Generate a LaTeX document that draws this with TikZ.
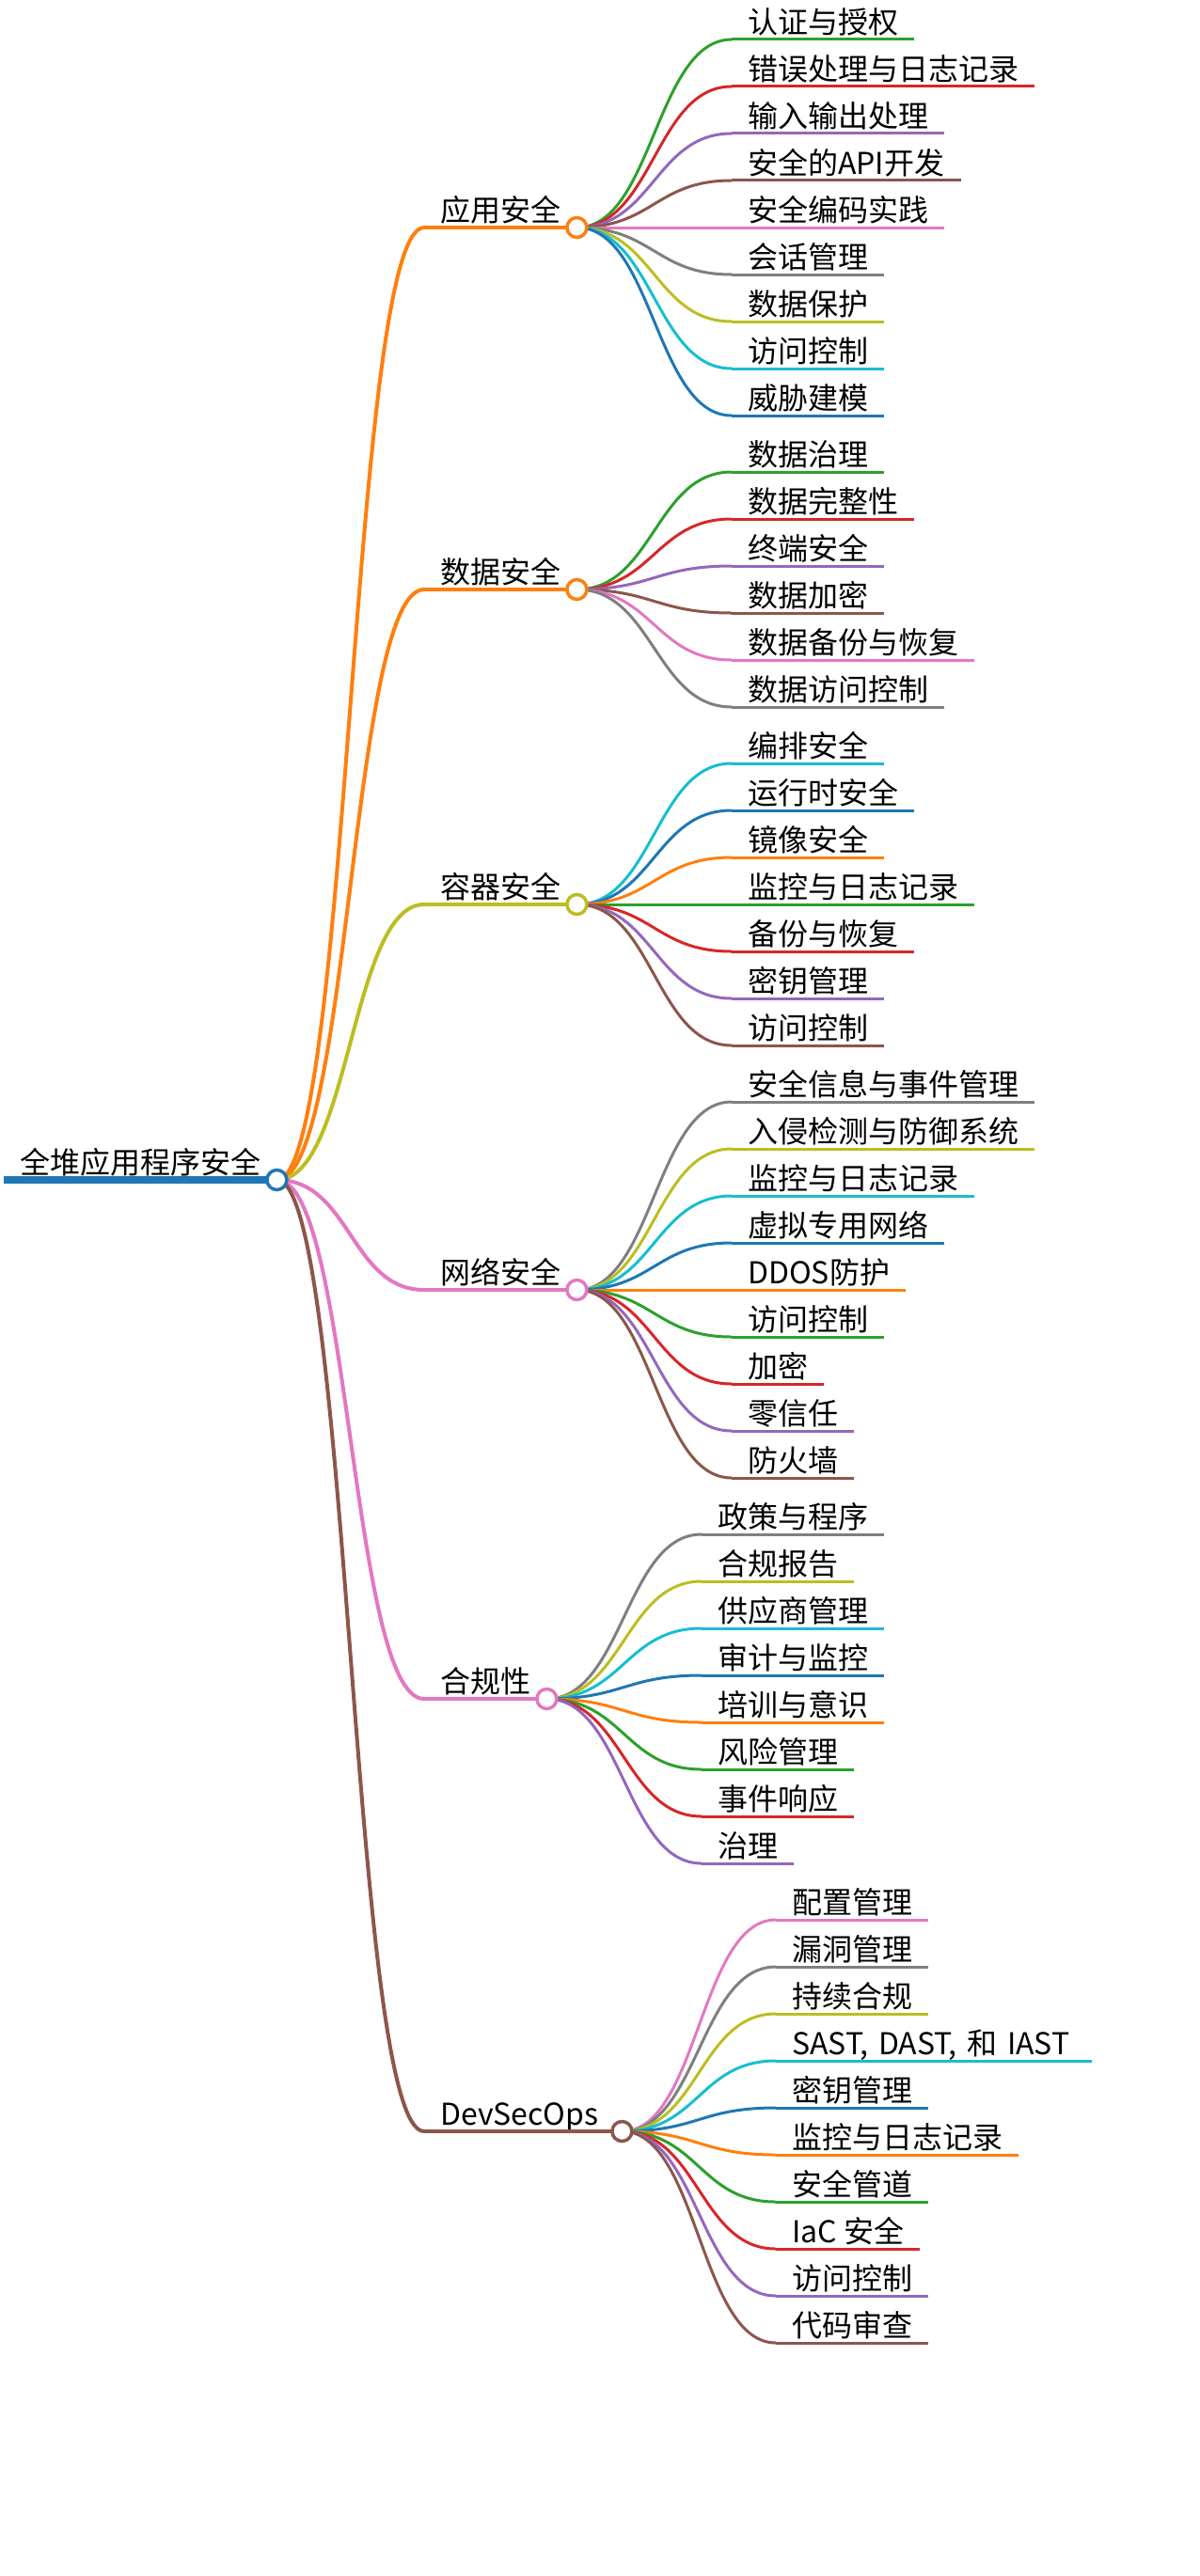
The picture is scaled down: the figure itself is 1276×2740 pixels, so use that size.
\documentclass[tikz,border=0pt]{standalone}
\usepackage{fontspec}
\newfontfamily\mapcjk{Noto Sans CJK SC}
\newcommand\mapfont{\mapcjk\fontsize{32}{38}\selectfont}
\usetikzlibrary{positioning}
\definecolor{mapblue}{HTML}{1F77B4}
\definecolor{maporange}{HTML}{FF7F0E}
\definecolor{mapgreen}{HTML}{2CA02C}
\definecolor{mapred}{HTML}{D62728}
\definecolor{mappurple}{HTML}{9467BD}
\definecolor{mapbrown}{HTML}{8C564B}
\definecolor{mappink}{HTML}{E377C2}
\definecolor{mapgray}{HTML}{7F7F7F}
\definecolor{mapolive}{HTML}{BCBD22}
\definecolor{mapcyan}{HTML}{17BECF}
\tikzset{
  txt/.style={font=\mapfont, inner xsep=17pt, inner ysep=6pt, text height=26pt, text depth=0pt, anchor=south west},
  root/.style={txt, append after command={(\tikzlastnode.south west) edge[draw=mapblue, line width=8pt] (\tikzlastnode.south east)}},
  topic/.style={txt, append after command={(\tikzlastnode.south west) edge[draw=#1, line width=4pt] (\tikzlastnode.south east)}},
  leaf/.style={txt, append after command={(\tikzlastnode.south west) edge[draw=#1, line width=3pt] (\tikzlastnode.south east)}},
  trunk/.style={draw=#1, line width=4pt, to path={.. controls +(78,0) and +(-78,0) .. (\tikztotarget)}},
  twig/.style={draw=#1, line width=3pt, to path={.. controls +(81,0) and +(-81,0) .. (\tikztotarget)}},
  dot/.style={circle, draw=#1, fill=white, line width=3.5pt, minimum size=21pt, inner sep=0pt},
}
\begin{document}
\begin{tikzpicture}[x=1pt, y=-1pt]
    \useasboundingbox (0,0) rectangle (1276,2740);
    \node[root] (rt) at (4,1255) {全堆应用程序安全};
    \node[topic=maporange] (app) at (451,242) {应用安全};
    \node[topic=maporange] (dat) at (451,627) {数据安全};
    \node[topic=mapolive] (ctr) at (451,962) {容器安全};
    \node[topic=mappink] (net) at (451,1372) {网络安全};
    \node[topic=mappink] (cmp) at (451,1807) {合规性};
    \node[topic=mapbrown, text width=176pt, align=left] (dev) at (451,2267) {DevSecOps};
    % application
    \node[leaf=mapgreen] (a1) at (778,42) {认证与授权};
    \node[leaf=mapred] (a2) at (778,92) {错误处理与日志记录};
    \node[leaf=mappurple] (a3) at (778,142) {输入输出处理};
    \node[leaf=mapbrown] (a4) at (778,192) {安全的API开发};
    \node[leaf=mappink] (a5) at (778,242) {安全编码实践};
    \node[leaf=mapgray] (a6) at (778,292) {会话管理};
    \node[leaf=mapolive] (a7) at (778,342) {数据保护};
    \node[leaf=mapcyan] (a8) at (778,392) {访问控制};
    \node[leaf=mapblue] (a9) at (778,442) {威胁建模};
    % data
    \node[leaf=mapgreen] (d1) at (778,502) {数据治理};
    \node[leaf=mapred] (d2) at (778,552) {数据完整性};
    \node[leaf=mappurple] (d3) at (778,602) {终端安全};
    \node[leaf=mapbrown] (d4) at (778,652) {数据加密};
    \node[leaf=mappink] (d5) at (778,702) {数据备份与恢复};
    \node[leaf=mapgray] (d6) at (778,752) {数据访问控制};
    % container
    \node[leaf=mapcyan] (c1) at (778,812) {编排安全};
    \node[leaf=mapblue] (c2) at (778,862) {运行时安全};
    \node[leaf=maporange] (c3) at (778,912) {镜像安全};
    \node[leaf=mapgreen] (c4) at (778,962) {监控与日志记录};
    \node[leaf=mapred] (c5) at (778,1012) {备份与恢复};
    \node[leaf=mappurple] (c6) at (778,1062) {密钥管理};
    \node[leaf=mapbrown] (c7) at (778,1112) {访问控制};
    % network
    \node[leaf=mapgray] (n1) at (778,1172) {安全信息与事件管理};
    \node[leaf=mapolive] (n2) at (778,1222) {入侵检测与防御系统};
    \node[leaf=mapcyan] (n3) at (778,1272) {监控与日志记录};
    \node[leaf=mapblue] (n4) at (778,1322) {虚拟专用网络};
    \node[leaf=maporange] (n5) at (778,1372) {DDOS防护};
    \node[leaf=mapgreen] (n6) at (778,1422) {访问控制};
    \node[leaf=mapred] (n7) at (778,1472) {加密};
    \node[leaf=mappurple] (n8) at (778,1522) {零信任};
    \node[leaf=mapbrown] (n9) at (778,1572) {防火墙};
    % compliance
    \node[leaf=mapgray] (p1) at (746,1632) {政策与程序};
    \node[leaf=mapolive] (p2) at (746,1682) {合规报告};
    \node[leaf=mapcyan] (p3) at (746,1732) {供应商管理};
    \node[leaf=mapblue] (p4) at (746,1782) {审计与监控};
    \node[leaf=maporange] (p5) at (746,1832) {培训与意识};
    \node[leaf=mapgreen] (p6) at (746,1882) {风险管理};
    \node[leaf=mapred] (p7) at (746,1932) {事件响应};
    \node[leaf=mappurple] (p8) at (746,1982) {治理};
    % devsecops
    \node[leaf=mappink] (v1) at (825,2042) {配置管理};
    \node[leaf=mapgray] (v2) at (825,2092) {漏洞管理};
    \node[leaf=mapolive] (v3) at (825,2142) {持续合规};
    \node[leaf=mapcyan, text width=302pt, align=left] (v4) at (825,2192) {SAST, DAST, 和 IAST};
    \node[leaf=mapblue] (v5) at (825,2242) {密钥管理};
    \node[leaf=maporange] (v6) at (825,2292) {监控与日志记录};
    \node[leaf=mapgreen] (v7) at (825,2342) {安全管道};
    \node[leaf=mapred] (v8) at (825,2392) {IaC 安全};
    \node[leaf=mappurple] (v9) at (825,2442) {访问控制};
    \node[leaf=mapbrown] (v10) at (825,2492) {代码审查};
    % links
    \draw[trunk=maporange] (rt.south east) to (app.south west); \draw[trunk=maporange] (rt.south east) to (dat.south west);
    \draw[trunk=mapolive] (rt.south east) to (ctr.south west); \draw[trunk=mappink] (rt.south east) to (net.south west);
    \draw[trunk=mappink] (rt.south east) to (cmp.south west); \draw[trunk=mapbrown] (rt.south east) to (dev.south west);
    \draw[twig=mapgreen] (app.south east) to (a1.south west); \draw[twig=mapred] (app.south east) to (a2.south west);
    \draw[twig=mappurple] (app.south east) to (a3.south west); \draw[twig=mapbrown] (app.south east) to (a4.south west);
    \draw[twig=mappink] (app.south east) to (a5.south west); \draw[twig=mapgray] (app.south east) to (a6.south west);
    \draw[twig=mapolive] (app.south east) to (a7.south west); \draw[twig=mapcyan] (app.south east) to (a8.south west);
    \draw[twig=mapblue] (app.south east) to (a9.south west);
    \draw[twig=mapgreen] (dat.south east) to (d1.south west); \draw[twig=mapred] (dat.south east) to (d2.south west);
    \draw[twig=mappurple] (dat.south east) to (d3.south west); \draw[twig=mapbrown] (dat.south east) to (d4.south west);
    \draw[twig=mappink] (dat.south east) to (d5.south west); \draw[twig=mapgray] (dat.south east) to (d6.south west);
    \draw[twig=mapcyan] (ctr.south east) to (c1.south west); \draw[twig=mapblue] (ctr.south east) to (c2.south west);
    \draw[twig=maporange] (ctr.south east) to (c3.south west); \draw[twig=mapgreen] (ctr.south east) to (c4.south west);
    \draw[twig=mapred] (ctr.south east) to (c5.south west); \draw[twig=mappurple] (ctr.south east) to (c6.south west);
    \draw[twig=mapbrown] (ctr.south east) to (c7.south west);
    \draw[twig=mapgray] (net.south east) to (n1.south west); \draw[twig=mapolive] (net.south east) to (n2.south west);
    \draw[twig=mapcyan] (net.south east) to (n3.south west); \draw[twig=mapblue] (net.south east) to (n4.south west);
    \draw[twig=maporange] (net.south east) to (n5.south west); \draw[twig=mapgreen] (net.south east) to (n6.south west);
    \draw[twig=mapred] (net.south east) to (n7.south west); \draw[twig=mappurple] (net.south east) to (n8.south west);
    \draw[twig=mapbrown] (net.south east) to (n9.south west);
    \draw[twig=mapgray] (cmp.south east) to (p1.south west); \draw[twig=mapolive] (cmp.south east) to (p2.south west);
    \draw[twig=mapcyan] (cmp.south east) to (p3.south west); \draw[twig=mapblue] (cmp.south east) to (p4.south west);
    \draw[twig=maporange] (cmp.south east) to (p5.south west); \draw[twig=mapgreen] (cmp.south east) to (p6.south west);
    \draw[twig=mapred] (cmp.south east) to (p7.south west); \draw[twig=mappurple] (cmp.south east) to (p8.south west);
    \draw[twig=mappink] (dev.south east) to (v1.south west); \draw[twig=mapgray] (dev.south east) to (v2.south west);
    \draw[twig=mapolive] (dev.south east) to (v3.south west); \draw[twig=mapcyan] (dev.south east) to (v4.south west);
    \draw[twig=mapblue] (dev.south east) to (v5.south west); \draw[twig=maporange] (dev.south east) to (v6.south west);
    \draw[twig=mapgreen] (dev.south east) to (v7.south west); \draw[twig=mapred] (dev.south east) to (v8.south west);
    \draw[twig=mappurple] (dev.south east) to (v9.south west); \draw[twig=mapbrown] (dev.south east) to (v10.south west);
    % knobs
    \node[dot=mapblue] (rtdot) at (rt.south east) {};
    \node[dot=maporange] (appdot) at (app.south east) {};
    \node[dot=maporange] (datdot) at (dat.south east) {};
    \node[dot=mapolive] (ctrdot) at (ctr.south east) {};
    \node[dot=mappink] (netdot) at (net.south east) {};
    \node[dot=mappink] (cmpdot) at (cmp.south east) {};
    \node[dot=mapbrown] (devdot) at (dev.south east) {};
\end{tikzpicture}
\end{document}
